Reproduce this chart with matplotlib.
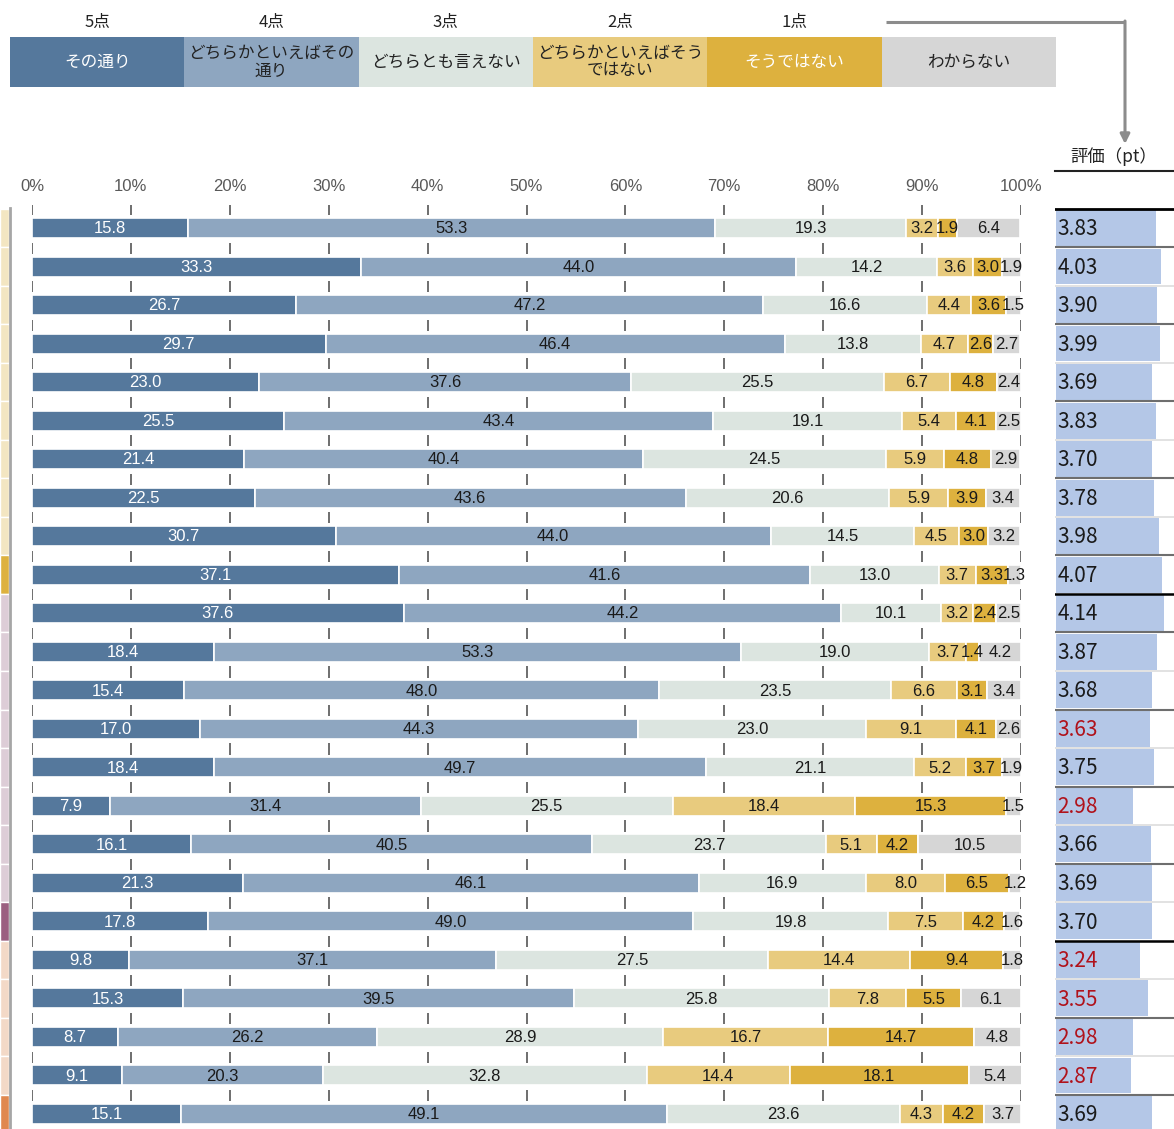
import numpy as np
import matplotlib
matplotlib.use("Agg")
import matplotlib.pyplot as plt
from matplotlib.patches import Rectangle

plt.rcParams["font.family"] = ["Noto Sans CJK JP", "DejaVu Sans"]

# ---- data ----
answers = [
    "その通り",
    "どちらかといえばその\n通り",
    "どちらとも言えない",
    "どちらかといえばそう\nではない",
    "そうではない",
    "わからない",
]
points = ["5点", "4点", "3点", "2点", "1点"]

yes = [15.8, 33.3, 26.7, 29.7, 23.0, 25.5, 21.4, 22.5, 30.7, 37.1, 37.6, 18.4,
       15.4, 17.0, 18.4, 7.9, 16.1, 21.3, 17.8, 9.8, 15.3, 8.7, 9.1, 15.1]
rather_yes = [53.3, 44.0, 47.2, 46.4, 37.6, 43.4, 40.4, 43.6, 44.0, 41.6, 44.2, 53.3,
              48.0, 44.3, 49.7, 31.4, 40.5, 46.1, 49.0, 37.1, 39.5, 26.2, 20.3, 49.1]
neutral = [19.3, 14.2, 16.6, 13.8, 25.5, 19.1, 24.5, 20.6, 14.5, 13.0, 10.1, 19.0,
           23.5, 23.0, 21.1, 25.5, 23.7, 16.9, 19.8, 27.5, 25.8, 28.9, 32.8, 23.6]
rather_no = [3.2, 3.6, 4.4, 4.7, 6.7, 5.4, 5.9, 5.9, 4.5, 3.7, 3.2, 3.7,
             6.6, 9.1, 5.2, 18.4, 5.1, 8.0, 7.5, 14.4, 7.8, 16.7, 14.4, 4.3]
no = [1.9, 3.0, 3.6, 2.6, 4.8, 4.1, 4.8, 3.9, 3.0, 3.3, 2.4, 1.4,
      3.1, 4.1, 3.7, 15.3, 4.2, 6.5, 4.2, 9.4, 5.5, 14.7, 18.1, 4.2]
unknown = [6.4, 1.9, 1.5, 2.7, 2.4, 2.5, 2.9, 3.4, 3.2, 1.3, 2.5, 4.2,
           3.4, 2.6, 1.9, 1.5, 10.5, 1.2, 1.6, 1.8, 6.1, 4.8, 5.4, 3.7]
scores = [3.83, 4.03, 3.90, 3.99, 3.69, 3.83, 3.70, 3.78, 3.98, 4.07, 4.14, 3.87,
          3.68, 3.63, 3.75, 2.98, 3.66, 3.69, 3.70, 3.24, 3.55, 2.98, 2.87, 3.69]

# row groups for the coloured strip on the left (colour, number of rows)
groups = [("#F3E6C2", 9), ("#DDB13E", 1), ("#DDCDD7", 8), ("#9B5F80", 1),
          ("#F3D9C7", 4), ("#E0884F", 1)]
# separator style after each row in the score panel: 2 black, 1 dark, 0 light
separators = [1, 0, 1, 0, 1, 0, 1, 0, 1, 2, 1, 0, 1, 0, 1, 0, 1, 0, 2, 0, 1, 0, 1]

series = [yes, rather_yes, neutral, rather_no, no, unknown]
colors = ["#55789C", "#8EA6C0", "#DCE5E0", "#E8CB7E", "#DDB13E", "#D6D6D6"]
legend_text = ["white", "#222222", "#222222", "#222222", "white", "#222222"]
bar_text = ["white", "#1A1A1A", "#1A1A1A", "#1A1A1A", "#1A1A1A", "#1A1A1A"]

W, H = 1174, 1129
n = len(yes)
rows = np.arange(n)
pitch = 38.52
first = 228
ylim = ((H - first) / pitch, -(first - 205) / pitch)


def frac(l, t, r, b):
    return [l / W, 1 - b / H, (r - l) / W, (b - t) / H]


fig = plt.figure(figsize=(W / 100, H / 100), dpi=100)

# ---- overlay for header / legend ----
ax0 = fig.add_axes([0, 0, 1, 1])
ax0.set_xlim(0, W)
ax0.set_ylim(H, 0)
ax0.axis("off")

box_w = (1056 - 10) / len(answers)
for i, (lab, c, tc) in enumerate(zip(answers, colors, legend_text)):
    x0 = 10 + i * box_w
    ax0.add_patch(Rectangle((x0, 37), box_w, 50, color=c, lw=0))
    ax0.text(x0 + box_w / 2, 62, lab, ha="center", va="center", fontsize=12,
             color=tc, linespacing=1.05)
    if i < len(points):
        ax0.text(x0 + box_w / 2, 22, points[i], ha="center", va="center",
                 fontsize=12, color="#222222")

ax0.plot([886, 1125], [22, 22], color="#8C8C8C", lw=2.2, solid_capstyle="butt")
ax0.annotate("", xy=(1125, 144), xytext=(1125, 21),
             arrowprops=dict(arrowstyle="-|>", color="#8C8C8C", lw=2.2,
                             mutation_scale=14, shrinkA=0, shrinkB=0))
ax0.text(1114, 157, "評価（pt）", ha="center", va="center", fontsize=12.5,
         color="#222222")
ax0.plot([1055, 1174], [171, 171], color="#222222", lw=1.5)
ax0.plot([10, 10], [208, H], color="#A6A6A6", lw=2)

# ---- left group strip ----
ax3 = fig.add_axes(frac(0, 205, 9, H))
strip_colors = [c for c, k in groups for _ in range(k)]
ax3.barh(rows, 1, height=1, color=strip_colors, edgecolor="white", lw=1)
ax3.set_xlim(0, 1)
ax3.set_ylim(*ylim)
ax3.axis("off")

# ---- main stacked bars ----
ax = fig.add_axes(frac(32, 205, 1021, H))
ax.set_xlim(0, 100)
ax.set_ylim(*ylim)
ticks = np.arange(0, 101, 10)
bounds = np.arange(-0.5, n + 0.5, 1.0)
for b in bounds:
    ax.vlines(ticks, b - 0.12, b + 0.17, color="#555555", lw=1.2, zorder=1)

left = np.zeros(n)
for vals, c, tc in zip(series, colors, bar_text):
    vals = np.array(vals)
    ax.barh(rows, vals, left=left, height=0.52, color=c, edgecolor="white",
            lw=1.2, zorder=2)
    for i in rows:
        ax.text(left[i] + vals[i] / 2, i + 0.02, f"{vals[i]:.1f}", ha="center",
                va="center", fontsize=12, color=tc, family="Liberation Sans",
                zorder=3)
    left += vals

ax.xaxis.tick_top()
ax.set_xticks(ticks)
ax.set_xticklabels([f"{t}%" for t in ticks], fontsize=12, color="#595959",
                   family="Liberation Sans")
ax.tick_params(axis="x", length=0, pad=8)
ax.set_yticks([])
for s in ax.spines.values():
    s.set_visible(False)

# ---- score panel ----
ax2 = fig.add_axes(frac(1055, 205, 1174, H))
ax2.set_xlim(-0.04, (W - 1056) / 26)
ax2.set_ylim(*ylim)
ax2.barh(rows, scores, height=0.93, color="#B4C7E7", lw=0, zorder=1)
for i, v in enumerate(scores):
    ax2.text(0.06, i + 0.03, f"{v:.2f}", ha="left", va="center", fontsize=15,
             color="#B0121B" if v < 3.65 else "#1A1A1A", zorder=3)
ax2.axhline(-0.5, color="black", lw=2, zorder=2)
sep_style = {0: ("#DDDDDD", 1.2), 1: ("#6E6E6E", 1.5), 2: ("black", 1.8)}
for k, s in enumerate(separators):
    c, lw = sep_style[s]
    ax2.axhline(k + 0.5, color=c, lw=lw, zorder=2)
ax2.axis("off")

fig.savefig("out.png", dpi=100)
